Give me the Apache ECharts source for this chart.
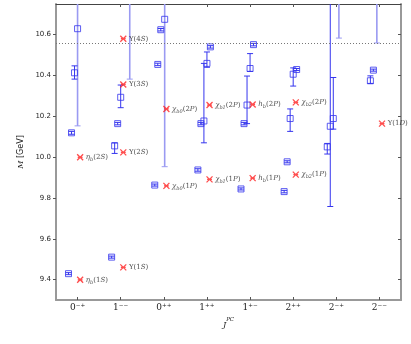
<!DOCTYPE html>
<html><head><meta charset="utf-8">
<script src="https://cdn.jsdelivr.net/npm/echarts@6/dist/echarts.min.js"></script>
<style>html,body{margin:0;padding:0;background:#fff}#c{width:411px;height:344px}</style>
</head><body><div id="c"></div>
<script>
// ---------------- data ----------------
const categories = ['0⁻⁺','1⁻⁻','0⁺⁺','1⁺⁺','1⁺⁻','2⁺⁺','2⁻⁺','2⁻⁻'];
const yTicks = [9.4, 9.6, 9.8, 10.0, 10.2, 10.4, 10.6];
const threshold = 10.56;

// lattice levels (one value per J^PC channel), with lower/upper error bounds
const lat1   = [9.429, 9.510, 9.863, 9.937, 9.844, 9.831, 10.050, 10.374];
const lat1Lo = [9.424, 9.505, 9.858, 9.931, 9.839, 9.825, 10.015, 10.361];
const lat1Hi = [9.434, 9.515, 9.868, 9.943, 9.849, 9.837, 10.067, 10.398];

const lat2   = [10.119, 10.055, 10.454, 10.164, 10.164, 9.977, 10.151, 10.426];
const lat2Lo = [10.112, 10.018, 10.448, 10.158, 10.158, 9.972, 9.758, 10.421];
const lat2Hi = [10.126, 10.070, 10.460, 10.170, 10.170, 9.982, 10.95, 10.431];

const lat3   = [10.413, 10.164, 10.624, 10.177, 10.255, 10.189, 10.189, null];
const lat3Lo = [10.382, 10.158, 10.618, 10.070, 10.164, 10.126, 10.137, null];
const lat3Hi = [10.447, 10.170, 10.630, 10.459, 10.397, 10.236, 10.390, null];

const lat4   = [null, 10.293, null, 10.459, 10.434, 10.406, null, null];
const lat4Lo = [null, 10.242, null, 10.440, 10.420, 10.348, null, null];
const lat4Hi = [null, 10.353, null, 10.515, 10.507, 10.437, null, null];

const lat5   = [null, null, null, 10.540, 10.551, 10.429, null, null];
const lat5Lo = [null, null, null, 10.534, 10.545, 10.424, null, null];
const lat5Hi = [null, null, null, 10.546, 10.557, 10.434, null, null];

// poorly determined lattice states (wide error bars)
const latWide   = [10.629, 10.85, 10.675, null, null, null, 10.85, 10.85];
const latWideLo = [10.153, 10.382, 9.953, null, null, null, 10.583, 10.559];
const latWideHi = [10.95, 10.95, 10.95, null, null, null, 10.95, 10.95];

// experimental states
const expCat  = [0, 0, 1, 1, 1, 1, 2, 2, 3, 3, 4, 4, 5, 5, 7];
const expMass = [9.399, 9.999, 9.460, 10.023, 10.356, 10.580, 9.859, 10.236,
                 9.891, 10.255, 9.897, 10.258, 9.914, 10.268, 10.164];
const expLabels = [
  '{g|η}{s|b}{n|(1}{i|S}{n|)}', '{g|η}{s|b}{n|(2}{i|S}{n|)}',
  '{n|Υ(1}{i|S}{n|)}', '{n|Υ(2}{i|S}{n|)}', '{n|Υ(3}{i|S}{n|)}', '{n|Υ(4}{i|S}{n|)}',
  '{g|χ}{s|b0}{n|(1}{i|P}{n|)}', '{g|χ}{s|b0}{n|(2}{i|P}{n|)}',
  '{g|χ}{s|b1}{n|(1}{i|P}{n|)}', '{g|χ}{s|b1}{n|(2}{i|P}{n|)}',
  '{g|h}{s|b}{n|(1}{i|P}{n|)}', '{g|h}{s|b}{n|(2}{i|P}{n|)}',
  '{g|χ}{s|b2}{n|(1}{i|P}{n|)}', '{g|χ}{s|b2}{n|(2}{i|P}{n|)}',
  '{n|Υ(1}{i|D}{n|)}'
];

// ---------------- layout / style ----------------
const levels = [
  [lat1, lat1Lo, lat1Hi, -0.21],
  [lat2, lat2Lo, lat2Hi, -0.14],
  [lat3, lat3Lo, lat3Hi, -0.07],
  [lat4, lat4Lo, lat4Hi, 0.0],
  [lat5, lat5Lo, lat5Hi, 0.08]
];
const wideOffsets = [0, 0.21, 0.02, 0, 0, 0, 0.06, -0.06];
const expOffset = 0.06;
const BLUE = '#3535ee';
const LIGHT = '#9a9af2';

function errRender(color, width) {
  return function (params, api) {
    const x = api.value(0), lo = api.value(1), hi = api.value(2);
    const cs = params.coordSys;
    const p1 = api.coord([x, lo]), p2 = api.coord([x, hi]);
    const top = cs.y, bot = cs.y + cs.height;
    const cl = v => Math.min(bot, Math.max(top, v));
    const children = [{type: 'line', shape: {x1: p1[0], y1: cl(p1[1]), x2: p1[0], y2: cl(p2[1])},
                       style: {stroke: color, lineWidth: width}}];
    [p1[1], p2[1]].forEach(y => {
      if (y >= top && y <= bot) children.push({type: 'line',
        shape: {x1: p1[0] - 3, y1: y, x2: p1[0] + 3, y2: y}, style: {stroke: color, lineWidth: 1}});
    });
    return {type: 'group', children};
  };
}

const series = [];
function addLevel(vals, lo, hi, offFn, errColor, errWidth) {
  const pts = [], errs = [];
  vals.forEach((v, i) => {
    if (v == null) return;
    const x = i + offFn(i);
    pts.push([x, v]);
    if (lo[i] != null) errs.push([x, lo[i], hi[i]]);
  });
  series.push({type: 'custom', renderItem: errRender(errColor, errWidth), data: errs,
               encode: {x: 0, y: [1, 2]}, z: 2, silent: true});
  series.push({type: 'scatter', data: pts, symbol: 'rect', symbolSize: 6, z: 3, clip: true,
               itemStyle: {color: 'rgba(255,255,255,0)', borderColor: BLUE, borderWidth: 1}, silent: true});
}
addLevel(latWide, latWideLo, latWideHi, i => wideOffsets[i], LIGHT, 1.6);
levels.forEach(l => addLevel(l[0], l[1], l[2], () => l[3], BLUE, 1));

series.push({
  type: 'scatter', z: 5, silent: true,
  data: expMass.map((m, i) => ({value: [expCat[i] + expOffset, m],
        label: {show: true, formatter: expLabels[i]}})),
  symbol: 'path://M0,0L10,10M10,0L0,10M1,5L9,5', symbolSize: 6,
  itemStyle: {color: 'rgba(0,0,0,0)', borderColor: '#ff2020', borderWidth: 1.3},
  label: {position: 'right', distance: 2, color: '#222',
    rich: {
      g: {fontFamily: 'DejaVu Serif', fontStyle: 'italic', fontSize: 7, verticalAlign: 'middle', lineHeight: 10},
      s: {fontFamily: 'DejaVu Serif', fontStyle: 'italic', fontSize: 5, verticalAlign: 'bottom', lineHeight: 10, padding: [3, 0, 0, 0]},
      n: {fontFamily: 'DejaVu Serif', fontSize: 7, verticalAlign: 'middle', lineHeight: 10},
      i: {fontFamily: 'DejaVu Serif', fontStyle: 'italic', fontSize: 7, verticalAlign: 'middle', lineHeight: 10}
    }},
  markLine: {silent: true, symbol: 'none', label: {show: false},
    lineStyle: {type: [1, 2], color: '#777', width: 1}, data: [{yAxis: threshold}]}
});

const xTickVals = categories.map((c, i) => i);
const chart = echarts.init(document.getElementById('c'), null, {renderer: 'canvas'});
chart.setOption({
  animation: false,
  grid: {left: 56, right: 10, top: 4, bottom: 44},
  xAxis: [{
    type: 'value', min: -0.5, max: 7.5, position: 'bottom',
    axisLine: {onZero: false, lineStyle: {color: '#999', width: 2}},
    axisTick: {inside: true, length: 3, customValues: xTickVals, lineStyle: {color: '#555'}},
    axisLabel: {customValues: xTickVals, formatter: v => categories[Math.round(v)] || '',
      fontFamily: 'DejaVu Serif', fontSize: 9, color: '#222', margin: 3},
    splitLine: {show: false},
    name: '{j|J}{p|PC}', nameLocation: 'middle', nameGap: 17,
    nameTextStyle: {rich: {
      j: {fontFamily: 'DejaVu Serif', fontStyle: 'italic', fontSize: 8, color: '#222', verticalAlign: 'bottom', lineHeight: 12},
      p: {fontFamily: 'DejaVu Serif', fontStyle: 'italic', fontSize: 5.5, color: '#222', verticalAlign: 'top', lineHeight: 12}
    }}
  }, {
    type: 'value', min: -0.5, max: 7.5, position: 'top',
    axisLine: {onZero: false, lineStyle: {color: '#444', width: 1}},
    axisTick: {inside: true, length: 3, customValues: xTickVals, lineStyle: {color: '#555'}},
    axisLabel: {show: false}, splitLine: {show: false}
  }],
  yAxis: [{
    type: 'value', min: 9.3, max: 10.75, position: 'left',
    axisLine: {show: true, onZero: false, lineStyle: {color: '#999', width: 2}},
    axisTick: {show: true, length: 3, customValues: yTicks, lineStyle: {color: '#555'}},
    axisLabel: {customValues: yTicks, formatter: v => v.toFixed(1), fontFamily: 'DejaVu Sans',
      fontSize: 7, color: '#222', margin: 5},
    splitLine: {show: false},
    name: '{m|M} [GeV]', nameLocation: 'middle', nameGap: 24, nameRotate: 90,
    nameTextStyle: {fontFamily: 'DejaVu Sans', fontSize: 8, color: '#222',
      rich: {m: {fontFamily: 'DejaVu Serif', fontStyle: 'italic', fontSize: 8, color: '#222'}}}
  }, {
    type: 'value', min: 9.3, max: 10.75, position: 'right',
    axisLine: {show: true, onZero: false, lineStyle: {color: '#999', width: 2}},
    axisTick: {show: true, inside: true, length: 3, customValues: yTicks, lineStyle: {color: '#555'}},
    axisLabel: {show: false}, splitLine: {show: false}
  }],
  series: series
});
</script>
</body></html>
